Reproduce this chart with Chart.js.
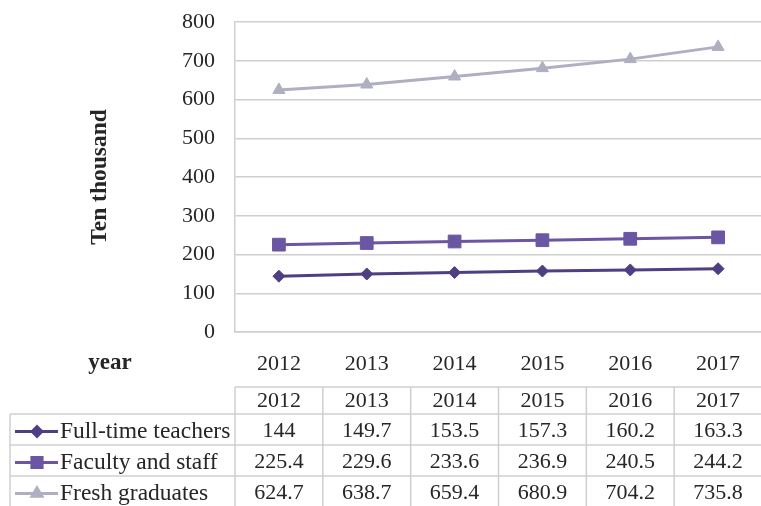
<!DOCTYPE html>
<html>
<head>
<meta charset="utf-8">
<script src="https://cdn.jsdelivr.net/npm/chart.js@4.4.1/dist/chart.umd.min.js"></script>
<style>
  html, body { margin: 0; padding: 0; background: #fff; overflow: hidden; }
  #wrap { width: 772px; height: 506px; position: relative; }
</style>
</head>
<body>
<div id="wrap"><canvas id="chart"></canvas></div>
<script>
const years = ['2012', '2013', '2014', '2015', '2016', '2017'];
const fullTimeTeachers = [144, 149.7, 153.5, 157.3, 160.2, 163.3];
const facultyStaff = [225.4, 229.6, 233.6, 236.9, 240.5, 244.2];
const freshGraduates = [624.7, 638.7, 659.4, 680.9, 704.2, 735.8];
const yMin = 0, yMax = 800, yStep = 100;

const serif = '"Liberation Serif", "Times New Roman", serif';
const textColor = '#262626';
const gridColor = '#cfcfcf';

const series = [
  { label: 'Full-time teachers', data: fullTimeTeachers, color: '#4f3f82', point: 'rectRot', radius: 6 },
  { label: 'Faculty and staff', data: facultyStaff, color: '#6b56a3', point: 'rect', radius: 9 },
  { label: 'Fresh graduates', data: freshGraduates, color: '#afafc2', point: 'triangle', radius: 7 },
];

// table under the plot, columns follow the category bands of the x scale
const tablePlugin = {
  id: 'dataTable',
  afterDraw(chart) {
    const ctx = chart.ctx;
    const x = chart.scales.x;
    const half = (x.getPixelForValue(1) - x.getPixelForValue(0)) / 2;
    const left = x.getPixelForValue(0) - half;
    const right = x.getPixelForValue(years.length - 1) + half;
    const legendLeft = 10;
    const headTop = 387, headBottom = 414, rowH = 31;

    ctx.save();
    ctx.strokeStyle = gridColor;
    ctx.lineWidth = 1.5;
    ctx.beginPath();
    ctx.moveTo(left, headTop); ctx.lineTo(right, headTop);
    for (let r = 0; r <= series.length; r++) {
      const y = headBottom + r * rowH;
      ctx.moveTo(legendLeft, y); ctx.lineTo(right, y);
    }
    const bottom = headBottom + series.length * rowH;
    ctx.moveTo(legendLeft, headBottom); ctx.lineTo(legendLeft, bottom);
    for (let i = 0; i <= years.length; i++) {
      const cx = left + i * half * 2;
      ctx.moveTo(cx, headTop); ctx.lineTo(cx, bottom);
    }
    ctx.stroke();

    ctx.fillStyle = textColor;
    ctx.font = '22px ' + serif;
    ctx.textAlign = 'center';
    ctx.textBaseline = 'middle';
    years.forEach((yr, i) => ctx.fillText(yr, x.getPixelForValue(i), (headTop + headBottom) / 2 + 1));

    series.forEach((s, r) => {
      const cy = headBottom + r * rowH + rowH / 2 + 2;
      ctx.font = '22px ' + serif;
      s.data.forEach((v, i) => {
        ctx.fillStyle = textColor;
        ctx.fillText(String(v), x.getPixelForValue(i), cy);
      });
      // legend key
      ctx.strokeStyle = s.color;
      ctx.lineWidth = 3;
      ctx.beginPath();
      ctx.moveTo(15, cy); ctx.lineTo(58, cy);
      ctx.stroke();
      ctx.fillStyle = s.color;
      Chart.helpers.drawPoint(ctx, { pointStyle: s.point, radius: s.radius * 0.8, borderWidth: 1 }, 37, cy);
      ctx.fill();
      ctx.fillStyle = textColor;
      ctx.textAlign = 'left';
      ctx.font = '23.5px ' + serif;
      ctx.fillText(s.label, 60, cy);
      ctx.textAlign = 'center';
    });

    ctx.font = 'bold 23px ' + serif;
    ctx.fillText('year', 110, 363);
    ctx.restore();
  }
};

new Chart(document.getElementById('chart'), {
  type: 'line',
  data: {
    labels: years,
    datasets: series.map(s => ({
      label: s.label,
      data: s.data,
      borderColor: s.color,
      backgroundColor: s.color,
      borderWidth: 3,
      pointStyle: s.point,
      pointRadius: s.radius,
      pointBorderWidth: 1,
      tension: 0,
    })),
  },
  options: {
    responsive: true,
    maintainAspectRatio: false,
    animation: false,
    layout: { padding: { top: 22, left: 0, right: 0, bottom: 0 } },
    plugins: { legend: { display: false }, tooltip: { enabled: false } },
    scales: {
      x: {
        offset: true,
        grid: { display: false, drawTicks: false },
        border: { color: gridColor, width: 1.5 },
        ticks: { color: textColor, font: { family: serif, size: 22 }, padding: 19, maxRotation: 0 },
        afterFit(scale) { scale.height = 174; },
      },
      y: {
        min: yMin,
        max: yMax,
        // invisible tick marks make the 20px gap between labels and plot
        grid: { color: gridColor, lineWidth: 1.5, drawTicks: true, tickLength: 20, tickColor: 'rgba(0,0,0,0)' },
        border: { color: gridColor, width: 1.5 },
        ticks: { stepSize: yStep, color: textColor, font: { family: serif, size: 22 }, padding: 0 },
        title: {
          display: true,
          text: 'Ten thousand',
          color: textColor,
          font: { family: serif, size: 23.5, weight: 'bold' },
          padding: { top: 86, bottom: 0 },
        },
        afterFit(scale) { scale.width = 235; },
      },
    },
  },
  plugins: [tablePlugin],
});
</script>
</body>
</html>
